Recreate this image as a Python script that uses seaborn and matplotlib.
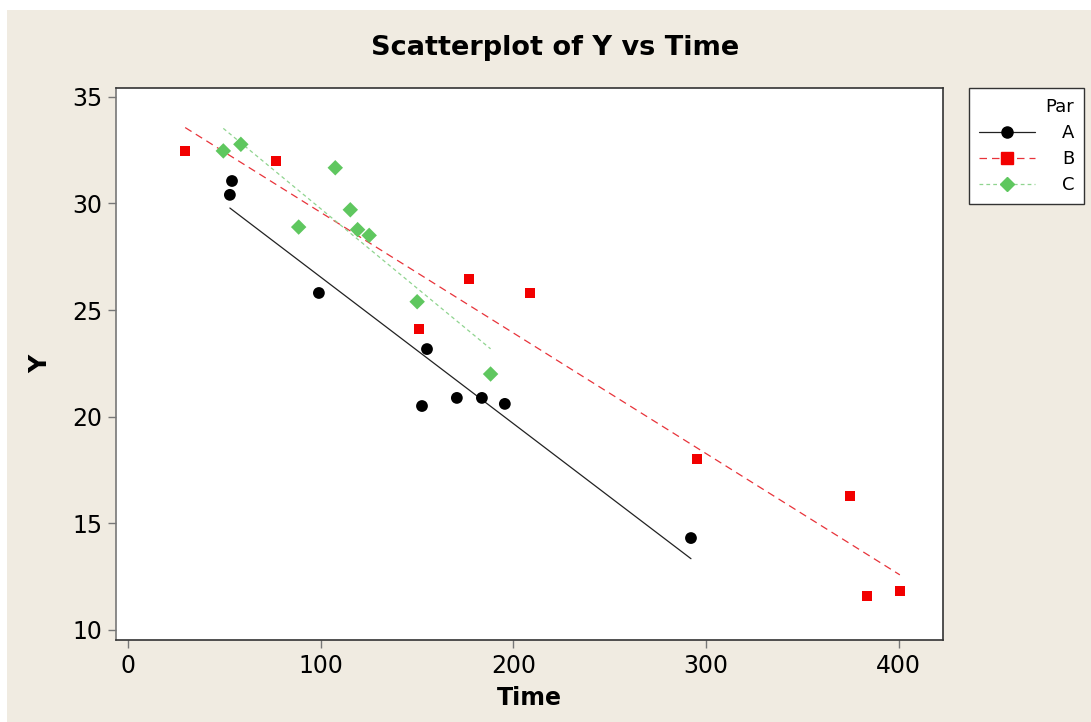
import matplotlib
matplotlib.use("Agg")
import matplotlib.pyplot as plt
from matplotlib.lines import Line2D
from matplotlib.patches import Rectangle
import pandas as pd
import seaborn as sns

# data
time_a = [52.9, 54.0, 99.1, 152.6, 155.2, 170.7, 183.7, 195.6, 292.2]
y_a = [30.4, 31.05, 25.8, 20.5, 23.17, 20.88, 20.88, 20.6, 14.31]
time_b = [29.7, 76.6, 151.2, 177.0, 208.8, 295.3, 374.8, 383.8, 400.6]
y_b = [32.46, 31.99, 24.1, 26.47, 25.79, 18.0, 16.28, 11.58, 11.83]
time_c = [49.5, 58.6, 88.6, 107.6, 115.4, 119.2, 125.2, 150.1, 188.2]
y_c = [32.46, 32.77, 28.89, 31.67, 29.7, 28.77, 28.5, 25.39, 22.0]
groups = ["A", "B", "C"]

df = pd.DataFrame({
    "Time": time_a + time_b + time_c,
    "Y": y_a + y_b + y_c,
    "Par": ["A"] * len(time_a) + ["B"] * len(time_b) + ["C"] * len(time_c),
})

colors = {"A": "black", "B": "#f20000", "C": "#5fc75f"}
line_colors = {"A": "#222222", "B": "#e8333a", "C": "#8fd48f"}
markers = {"A": "o", "B": "s", "C": "D"}
msizes = {"A": 72, "B": 52, "C": 62}
dashes = {"A": (None, None), "B": (6, 4), "C": (3, 2.5)}

sns.set_style("white")
plt.rcParams["font.family"] = ["DejaVu Sans"]
plt.rcParams["text.color"] = "black"
plt.rcParams["axes.labelcolor"] = "black"
plt.rcParams["xtick.color"] = "black"
plt.rcParams["ytick.color"] = "black"

fig = plt.figure(figsize=(10.91, 7.22), dpi=100, facecolor="white")
fig.patches.append(Rectangle((7 / 1091, 0), 1, 1 - 10 / 722, transform=fig.transFigure,
                             facecolor="#f0ebe1", edgecolor="none", zorder=-10))
ax = fig.add_axes([116 / 1091, 1 - 640 / 722, 827 / 1091, 552 / 722])
ax.set_facecolor("white")

for g in groups:
    sub = df[df["Par"] == g]
    line_kws = {"color": line_colors[g], "lw": 0.9}
    if g != "A":
        line_kws["linestyle"] = (0, dashes[g])
    sns.regplot(data=sub, x="Time", y="Y", ax=ax, scatter=False, ci=None,
                truncate=True, line_kws=line_kws)
    sns.scatterplot(data=sub, x="Time", y="Y", ax=ax, color=colors[g],
                    marker=markers[g], s=msizes[g], edgecolor="none",
                    linewidth=0, zorder=3, legend=False)

ax.set_xlim(-6.2, 423)
ax.set_ylim(9.53, 35.41)
ax.set_xticks([0, 100, 200, 300, 400])
ax.set_yticks([10, 15, 20, 25, 30, 35])
ax.tick_params(axis="both", direction="out", length=6, width=1, color="#777777",
               labelcolor="black", labelsize=17, pad=4, left=True, bottom=True)
for s in ax.spines.values():
    s.set_color("#333333")
    s.set_linewidth(1.2)
ax.spines["left"].set_color("#777777")

ax.set_xlabel("Time", fontsize=17, fontweight="bold", color="black")
ax.set_ylabel("Y", fontsize=18, fontweight="bold", color="black")
ax.xaxis.set_label_coords(0.5, -0.083)
ax.yaxis.set_label_coords(-0.077, 0.5)

fig.text(555 / 1091, 1 - 48 / 722, "Scatterplot of Y vs Time", fontsize=19.5,
         fontweight="bold", ha="center", va="center", color="black")

handles = []
for g in groups:
    ls = "-" if g == "A" else (0, dashes[g])
    handles.append(Line2D([], [], color=line_colors[g], lw=0.9, linestyle=ls,
                          marker=markers[g], markerfacecolor=colors[g],
                          markeredgecolor=colors[g],
                          markersize=8 if g != "C" else 7))
leg = fig.legend(handles, groups, title="Par", loc="upper left",
                 bbox_to_anchor=(969 / 1091, 1 - 88 / 722), borderaxespad=0,
                 fontsize=13, title_fontsize=13, frameon=True, fancybox=False,
                 framealpha=1, handlelength=3.1, handletextpad=1.5,
                 borderpad=0.55, labelspacing=0.45, alignment="right")
leg.get_frame().set_edgecolor("#333333")
leg.get_frame().set_facecolor("white")
leg.get_frame().set_linewidth(1.0)

fig.savefig("out.png", dpi=100, facecolor=fig.get_facecolor())
